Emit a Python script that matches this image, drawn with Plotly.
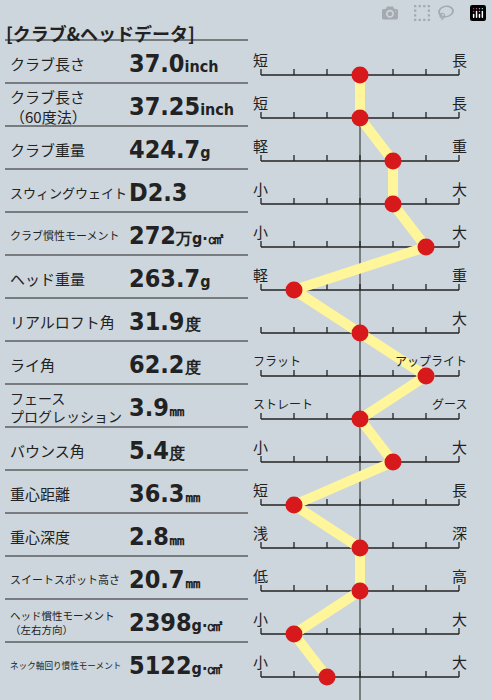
import plotly.graph_objects as go

labels = ["クラブ長さ", "クラブ長さ<br>（60度法）", "クラブ重量", "スウィングウェイト", "クラブ慣性モーメント",
          "ヘッド重量", "リアルロフト角", "ライ角", "フェース<br>プログレッション", "バウンス角",
          "重心距離", "重心深度", "スイートスポット高さ", "ヘッド慣性モーメント<br>（左右方向）", "ネック軸回り慣性モーメント"]
label_sizes = [15, 15, 15, 13, 11, 15, 15, 15, 14, 15, 15, 15, 11, 10.5, 8.6]
nums = ["37.0", "37.25", "424.7", "D2.3", "272", "263.7", "31.9", "62.2", "3.9", "5.4", "36.3", "2.8", "20.7", "2398", "5122"]
units = ["inch", "inch", "g", "", "万g·㎠", "g", "度", "度", "㎜", "度", "㎜", "㎜", "㎜", "g·㎠", "g·㎠"]
left_ends = ["短", "短", "軽", "小", "小", "軽", "", "フラット", "ストレート", "小", "短", "浅", "低", "小", "小"]
right_ends = ["長", "長", "重", "大", "大", "重", "大", "アップライト", "グース", "大", "長", "深", "高", "大", "大"]
scores = [0, 0, 1, 1, 2, -2, 0, 2, 0, 1, -2, 0, 0, -2, -1]
ticks = [-3, -2, -1, 0, 1, 2, 3]

rows = list(range(len(labels)))
XR = [-3 - 261 / 33, 3 + 33 / 33]
YR = [14 + 23 / 43, -75 / 43]

fig = go.Figure()
fig.add_trace(go.Scatter(x=scores, y=rows, mode="lines", line=dict(color="#fff59a", width=10), hoverinfo="skip"))
fig.add_trace(go.Scatter(x=scores, y=rows, mode="markers", marker=dict(color="#d7191c", size=17), hoverinfo="skip"))

shapes = []
ann = []
shapes.append(dict(type="line", xref="x", yref="y", x0=0, x1=0, y0=0, y1=YR[0], line=dict(color="#222", width=1), layer="below"))
shapes.append(dict(type="line", xref="paper", yref="y", x0=5 / 492, x1=248 / 492, y0=-35 / 43, y1=-35 / 43, line=dict(color="#222", width=1)))
for i in rows:
    shapes.append(dict(type="line", xref="x", yref="y", x0=ticks[0], x1=ticks[-1], y0=i, y1=i, line=dict(color="#222", width=1.3), layer="below"))
    for t in ticks:
        shapes.append(dict(type="line", xref="x", yref="y", x0=t, x1=t, y0=i, y1=i - 6 / 43, line=dict(color="#222", width=1.3), layer="below"))
    if i < len(labels) - 1:
        shapes.append(dict(type="line", xref="paper", yref="y", x0=5 / 492, x1=248 / 492, y0=i + 8 / 43, y1=i + 8 / 43, line=dict(color="#222", width=1)))
    ann.append(dict(xref="paper", yref="y", x=8 / 492, y=i - 12 / 43, text=labels[i], showarrow=False, xanchor="left",
                    align="left", font=dict(size=label_sizes[i], family="Noto Sans CJK JP", color="#222")))
    ann.append(dict(xref="paper", yref="y", x=127 / 492, y=i - 12 / 43,
                    text="<b>" + nums[i] + "</b><span style='font-size:16px'><b>" + units[i] + "</b></span>",
                    showarrow=False, xanchor="left", font=dict(size=25, family="DejaVu Sans Condensed", color="#222")))
    ann.append(dict(xref="x", yref="y", x=-3.3, y=i - 16 / 43, text=left_ends[i], showarrow=False, xanchor="left",
                    font=dict(size=15 if len(left_ends[i]) < 2 else 12, family="Noto Sans CJK JP", color="#222")))
    ann.append(dict(xref="x", yref="y", x=3.3, y=i - 16 / 43, text=right_ends[i], showarrow=False, xanchor="right",
                    font=dict(size=15 if len(right_ends[i]) < 2 else 12, family="Noto Sans CJK JP", color="#222")))
ann.append(dict(xref="paper", yref="paper", x=4 / 492, y=1 - 18 / 700, text="<b>[クラブ&ヘッドデータ]</b>", showarrow=False,
                xanchor="left", font=dict(size=18, family="Noto Sans CJK JP", color="#222")))

fig.update_layout(width=492, height=700, margin=dict(l=0, r=0, t=0, b=0),
                  paper_bgcolor="#cdd6dd", plot_bgcolor="#cdd6dd", showlegend=False,
                  xaxis=dict(range=XR, visible=False, fixedrange=True),
                  yaxis=dict(range=YR, visible=False, fixedrange=True),
                  shapes=shapes, annotations=ann)
fig.write_html("out.html")

with open("out.html", encoding="utf-8") as f:
    html = f.read()
html = html.replace("<head>", "<head><style>html,body{margin:0;padding:0;overflow:hidden;background:#cdd6dd}</style>", 1)
with open("out.html", "w", encoding="utf-8") as f:
    f.write(html)
